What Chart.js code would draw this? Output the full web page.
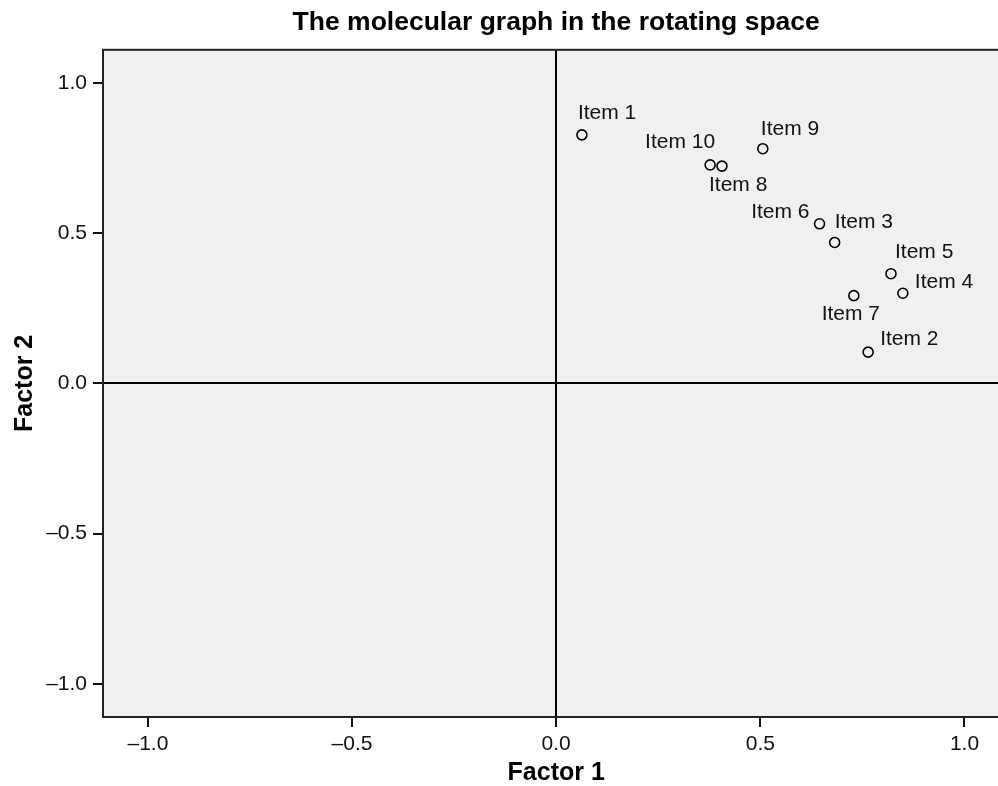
<!DOCTYPE html>
<html>
<head>
<meta charset="utf-8">
<script src="https://cdn.jsdelivr.net/npm/chart.js@4.4.1/dist/chart.umd.min.js"></script>
<style>
  html, body { margin: 0; padding: 0; background: #fff; overflow: hidden; }
  #wrap { width: 1016px; height: 786px; position: relative; }
</style>
</head>
<body>
<div id="wrap"><canvas id="chart"></canvas></div>
<script>
// ── Data ─────────────────────────────────────────
const items   = ["Item 1", "Item 2", "Item 3", "Item 4", "Item 5", "Item 6", "Item 7", "Item 8", "Item 9", "Item 10"];
const factor1 = [0.063, 0.764, 0.682, 0.849, 0.820, 0.645, 0.729, 0.406, 0.506, 0.377];
const factor2 = [0.827, 0.104, 0.469, 0.300, 0.365, 0.531, 0.292, 0.723, 0.781, 0.727];
const axisTicks = [-1.0, -0.5, 0.0, 0.5, 1.0];

// label placement next to each marker: [dx, dy, align]
const labelPlace = {
    "Item 1":  [-4, -22, "left"],
    "Item 2":  [12, -13, "left"],
    "Item 3":  [0, -20, "left"],
    "Item 4":  [12, -11, "left"],
    "Item 5":  [4, -21, "left"],
    "Item 6":  [-10, -12, "right"],
    "Item 7":  [-3, 19, "center"],
    "Item 8":  [-13, 19, "left"],
    "Item 9":  [-2, -19, "left"],
    "Item 10": [5, -23, "right"],
};

const FONT = "'Liberation Sans', Arial, Helvetica, sans-serif";
const fmt = v => (v < 0 ? "\u2013" : "") + Math.abs(v).toFixed(1);

// plot background + frame
const framePlugin = {
    id: "frame",
    beforeDraw(chart) {
        const { ctx, chartArea: a } = chart;
        ctx.save();
        ctx.fillStyle = "#f0f0f0";
        ctx.fillRect(a.left, a.top, a.right - a.left, a.bottom - a.top);
        ctx.restore();
    },
    afterDraw(chart) {
        const { ctx, chartArea: a } = chart;
        ctx.save();
        ctx.strokeStyle = "#222";
        ctx.lineWidth = 2;
        ctx.strokeRect(a.left, a.top, a.right - a.left, a.bottom - a.top);
        ctx.restore();
    },
};

// item labels
const labelPlugin = {
    id: "itemLabels",
    afterDatasetsDraw(chart) {
        const { ctx } = chart;
        const meta = chart.getDatasetMeta(0);
        ctx.save();
        ctx.font = "21px " + FONT;
        ctx.fillStyle = "#111";
        ctx.textBaseline = "middle";
        meta.data.forEach((pt, i) => {
            const p = labelPlace[items[i]] || [6, -16, "left"];
            ctx.textAlign = p[2];
            ctx.fillText(items[i], pt.x + p[0], pt.y + p[1]);
        });
        ctx.restore();
    },
};

const zeroLine = c => (c.tick && c.tick.value === 0 ? "#000" : "rgba(0,0,0,0)");

new Chart(document.getElementById("chart"), {
    type: "scatter",
    data: {
        datasets: [{
            label: "Items",
            data: factor1.map((x, i) => ({ x, y: factor2[i] })),
            pointRadius: 5,
            pointHoverRadius: 5,
            pointBorderWidth: 1.6,
            pointBorderColor: "#000",
            pointBackgroundColor: "rgba(0,0,0,0)",
        }],
    },
    options: {
        responsive: true,
        maintainAspectRatio: false,
        animation: false,
        events: [],
        layout: { padding: { top: 0, right: 2, left: 10, bottom: 0 } },
        plugins: {
            legend: { display: false },
            tooltip: { enabled: false },
            title: {
                display: true,
                text: "The molecular graph in the rotating space",
                fullSize: false,
                color: "#000",
                font: { family: FONT, size: 26.5, weight: "bold", lineHeight: 1.2 },
                padding: { top: 7, bottom: 11 },
            },
        },
        scales: {
            x: {
                type: "linear",
                min: -1.11,
                max: 1.11,
                afterBuildTicks: s => { s.ticks = axisTicks.map(v => ({ value: v })); },
                ticks: { callback: fmt, color: "#111", font: { family: FONT, size: 21 }, padding: 5, maxRotation: 0 },
                grid: { color: zeroLine, lineWidth: 2, drawTicks: true, tickLength: 10, tickColor: "#111", tickWidth: 2 },
                border: { display: false },
                title: {
                    display: true,
                    text: "Factor 1",
                    color: "#000",
                    font: { family: FONT, size: 25, weight: "bold", lineHeight: 1.0 },
                    padding: { top: -3, bottom: 0 },
                },
                afterFit: s => { s.height = 69; },
            },
            y: {
                type: "linear",
                min: -1.11,
                max: 1.11,
                afterBuildTicks: s => { s.ticks = axisTicks.map(v => ({ value: v })); },
                ticks: { callback: fmt, color: "#111", font: { family: FONT, size: 21 }, padding: 6 },
                grid: { color: zeroLine, lineWidth: 2, drawTicks: true, tickLength: 10, tickColor: "#111", tickWidth: 2 },
                border: { display: false },
                title: {
                    display: true,
                    text: "Factor 2",
                    color: "#000",
                    font: { family: FONT, size: 25, weight: "bold" },
                    padding: { top: 0, bottom: 0 },
                },
                afterFit: s => { s.width = 93; },
            },
        },
    },
    plugins: [framePlugin, labelPlugin],
});
</script>
</body>
</html>
